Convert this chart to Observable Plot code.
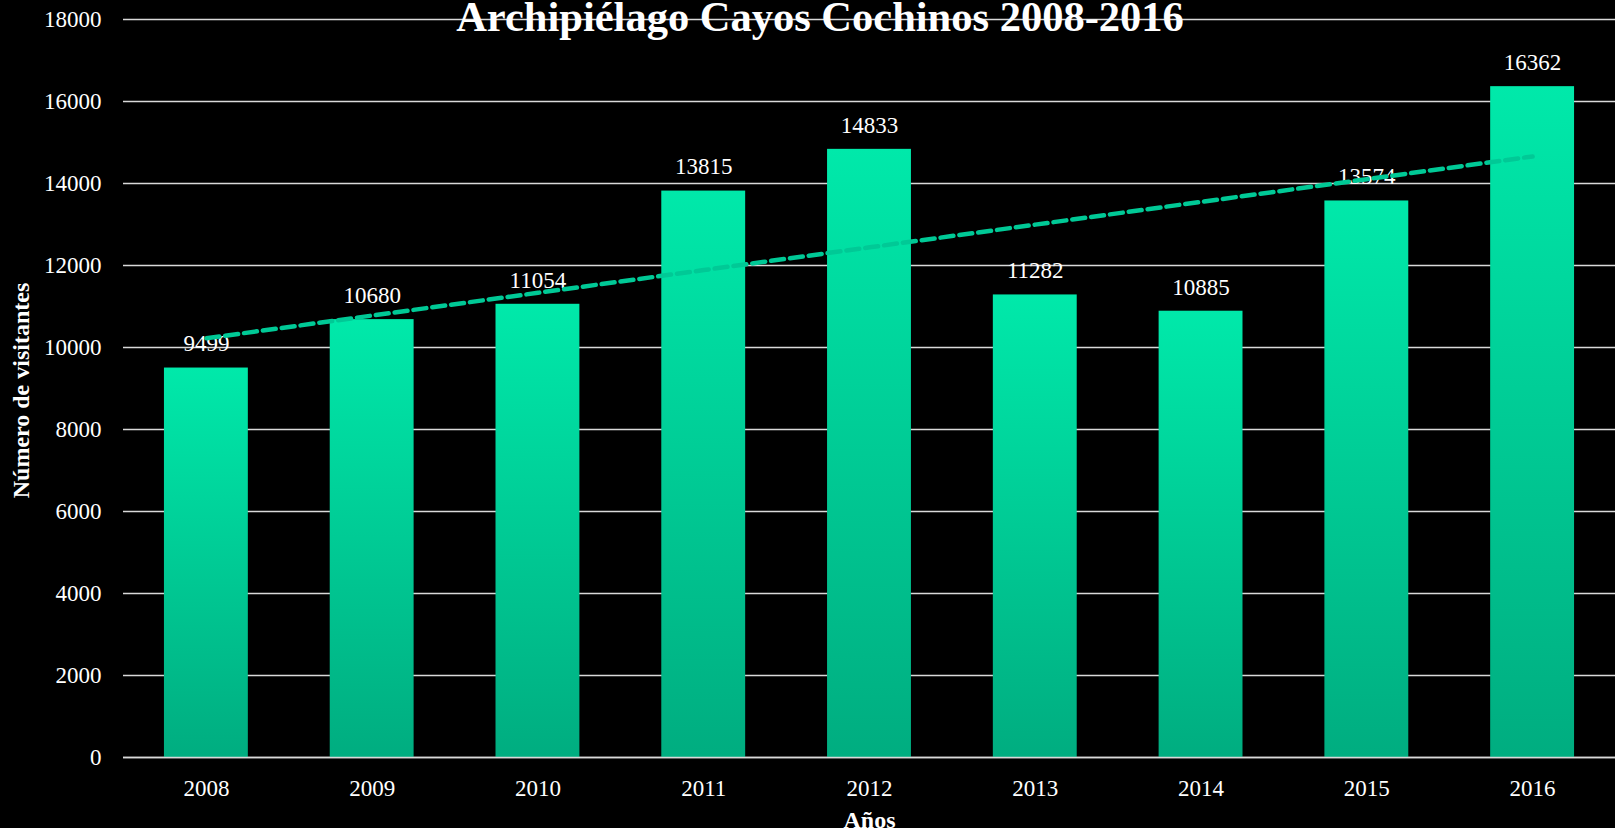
<!DOCTYPE html>
<html>
<head>
<meta charset="utf-8">
<script src="https://cdn.jsdelivr.net/npm/d3@7"></script>
<script src="https://cdn.jsdelivr.net/npm/@observablehq/plot@0.6"></script>
<style>
  html, body { margin: 0; padding: 0; background: #000; }
  #wrap { position: relative; width: 1615px; height: 828px; overflow: hidden; }
  #title { position: absolute; top: -4px; left: 820px; transform: translateX(-50%);
    font-family: "Liberation Serif", serif; font-weight: bold; font-size: 42.5px; line-height: 1;
    color: #fff; white-space: nowrap; }
</style>
</head>
<body>
<div id="wrap"><div id="chart"></div><div id="title">Archipiélago Cayos Cochinos 2008-2016</div></div>
<script>
const years = ["2008","2009","2010","2011","2012","2013","2014","2015","2016"];
const visitors = [9499, 10680, 11054, 13815, 14833, 11282, 10885, 13574, 16362];
const yTicks = [0, 2000, 4000, 6000, 8000, 10000, 12000, 14000, 16000, 18000];
const yLabel = "Número de visitantes";
const xLabel = "Años";

const data = years.map((y, i) => ({year: y, value: visitors[i]}));

// linear trend (least squares) computed from the data
const n = visitors.length;
const mx = (n - 1) / 2;
const my = d3.mean(visitors);
const slope = d3.sum(visitors, (v, i) => (i - mx) * (v - my)) / d3.sum(visitors, (v, i) => (i - mx) ** 2);
const trend = years.map((y, i) => ({year: y, value: my + slope * (i - mx)}));

const defs = () => {
  const g = d3.create("svg:defs");
  const lg = g.append("linearGradient").attr("id", "barGrad")
    .attr("x1", 0).attr("y1", 0).attr("x2", 0).attr("y2", 1);
  lg.append("stop").attr("offset", "0%").attr("stop-color", "#00e9aa");
  lg.append("stop").attr("offset", "100%").attr("stop-color", "#00ad80");
  return g.node();
};

const chart = Plot.plot({
  width: 1615,
  height: 828,
  marginLeft: 123,
  marginRight: 0,
  marginTop: 19,
  marginBottom: 71,
  style: {background: "#000", color: "#fff", fontFamily: "Liberation Serif", fontSize: "23px"},
  x: {domain: years, paddingInner: 0.494, paddingOuter: 0.247, round: false, label: null},
  y: {domain: [0, 18000], ticks: yTicks, label: null},
  marks: [
    defs,
    Plot.gridY(yTicks, {stroke: "#d9d9d9", strokeOpacity: 1, strokeWidth: 1.4}),
    Plot.axisY(yTicks, {tickSize: 0, tickPadding: 22, fontSize: 23, label: null, tickFormat: d => String(d)}),
    Plot.axisX({tickSize: 0, tickPadding: 22, fontSize: 23, label: null}),
    Plot.barY(data, {x: "year", y: "value", fill: "url(#barGrad)"}),
    Plot.ruleY([0], {stroke: "#d9d9d9", strokeWidth: 1.4}),
    Plot.text(data, {x: "year", y: "value", text: d => String(d.value), dy: -24, fill: "#fff", fontSize: 23}),
    Plot.line(trend, {x: "year", y: "value", stroke: "#00c996", strokeWidth: 4.5, strokeDasharray: "13,6"}),
    Plot.text([yLabel], {frameAnchor: "left", dx: -102, dy: 2, rotate: -90, textAnchor: "middle", lineAnchor: "middle", fontWeight: "bold", fontSize: 24, fill: "#fff"}),
    Plot.text([xLabel], {frameAnchor: "bottom", dy: 63, lineAnchor: "middle", fontWeight: "bold", fontSize: 24, fill: "#fff"})
  ]
});
document.getElementById("chart").appendChild(chart);
</script>
</body>
</html>
